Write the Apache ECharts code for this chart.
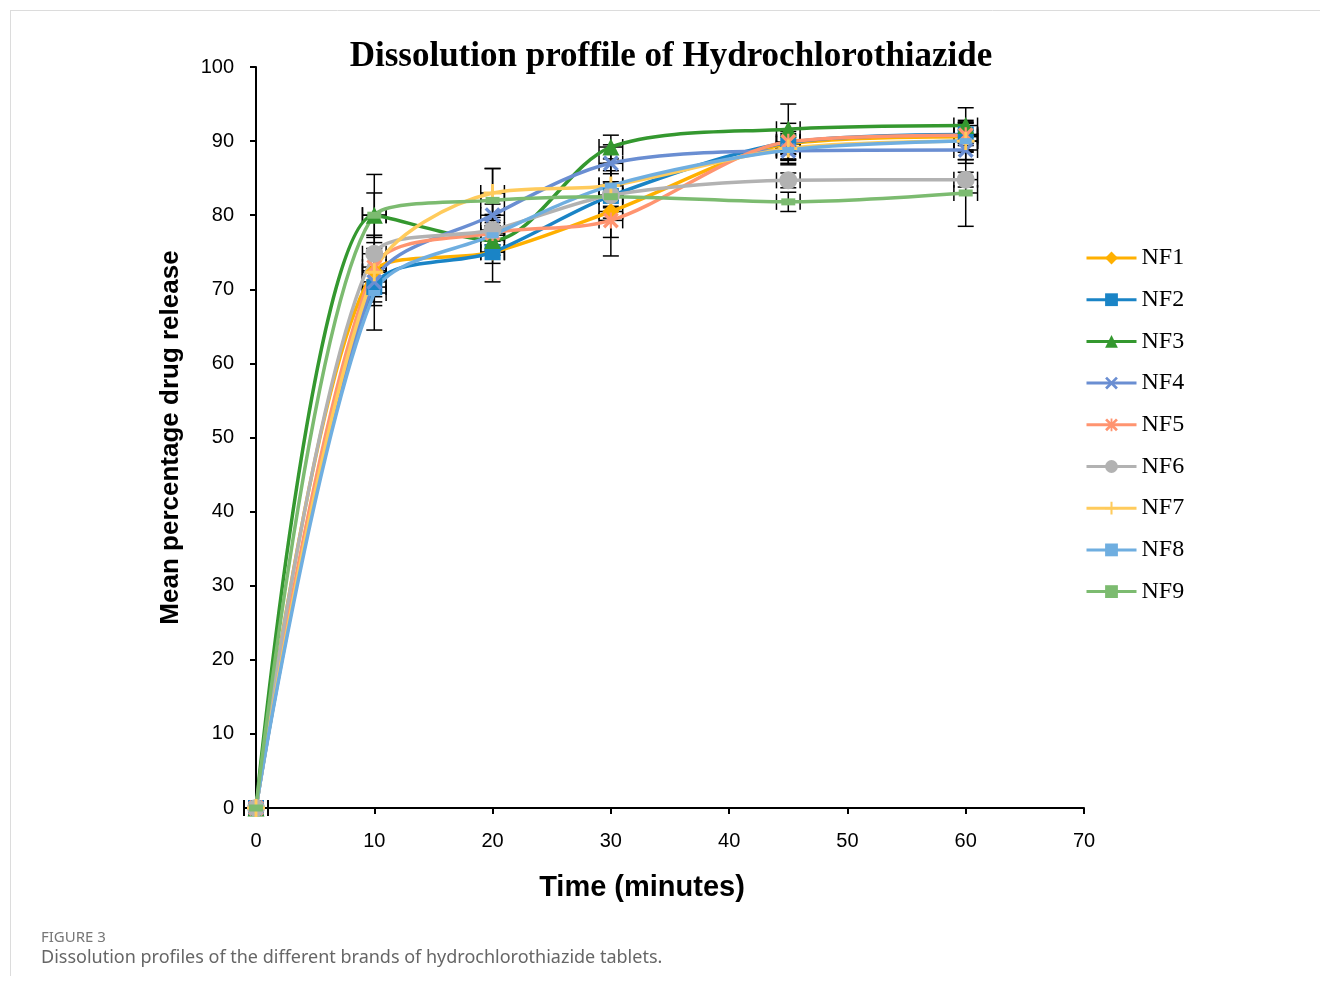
<!DOCTYPE html>
<html>
<head>
<meta charset="utf-8">
<title>Dissolution profile</title>
<script src="https://cdn.jsdelivr.net/npm/echarts@6/dist/echarts.min.js"></script>
<style>
  html, body { margin: 0; padding: 0; background: #fff; }
  #chart { width: 1320px; height: 987px; }
</style>
</head>
<body>
<div id="chart"></div>
<script>
// sampling times (minutes)
const times = [0, 10, 20, 30, 45, 60]

// mean % released per brand
const nf1 = [0, 72.5, 75.0, 80.5, 89.6, 90.6]
const nf2 = [0, 70.3, 75.0, 82.6, 89.8, 90.9]
const nf3 = [0, 80.0, 76.6, 89.2, 91.6, 92.1]
const nf4 = [0, 71.0, 80.0, 87.0, 88.7, 88.8]
const nf5 = [0, 73.0, 77.6, 79.3, 89.9, 90.8]
const nf6 = [0, 74.8, 78.0, 82.7, 84.7, 84.8]
const nf7 = [0, 72.3, 83.0, 84.0, 89.0, 90.0]
const nf8 = [0, 69.5, 77.3, 84.0, 88.8, 90.0]
const nf9 = [0, 80.0, 82.0, 82.5, 81.8, 83.0]

// standard deviations (vertical error bars)
const sd1 = [0.5, 3.0, 4.0, 3.5, 2.0, 2.0]
const sd2 = [0.5, 2.5, 1.5, 3.0, 1.5, 1.5]
const sd3 = [0.5, 3.0, 2.0, 1.6, 3.4, 2.4]
const sd4 = [0.5, 2.0, 1.5, 2.5, 1.2, 1.8]
const sd5 = [0.5, 2.0, 2.5, 4.8, 2.5, 2.0]
const sd6 = [0.5, 2.5, 2.0, 1.5, 1.0, 1.0]
const sd7 = [0.5, 4.0, 3.3, 2.0, 2.0, 2.5]
const sd8 = [0.5, 5.0, 2.0, 3.0, 2.0, 1.5]
const sd9 = [0.5, 5.5, 4.3, 2.0, 1.3, 4.5]

// horizontal error on time
const timeErr = [1, 1, 1, 1, 1, 1]

const names = ['NF1', 'NF2', 'NF3', 'NF4', 'NF5', 'NF6', 'NF7', 'NF8', 'NF9']
const means = [nf1, nf2, nf3, nf4, nf5, nf6, nf7, nf8, nf9]
const sds = [sd1, sd2, sd3, sd4, sd5, sd6, sd7, sd8, sd9]
const colors = ['#FFB000', '#1A84C6', '#34982F', '#6A8ED2', '#FF9470', '#B2B2B2', '#FFCB5C', '#6FAEE0', '#7CBB70']

const xShape = 'path://M0,1.5L1.5,0L5,3.5L8.5,0L10,1.5L6.5,5L10,8.5L8.5,10L5,6.5L1.5,10L0,8.5L3.5,5Z'
const starShape = 'path://M0,1.5L1.5,0L5,3.5L8.5,0L10,1.5L6.5,5L10,8.5L8.5,10L5,6.5L1.5,10L0,8.5L3.5,5ZM4.3,0H5.7V10H4.3Z'
const plusShape = 'path://M4.2,0H5.8V4.2H10V5.8H5.8V10H4.2V5.8H0V4.2H4.2Z'
const symbols = ['diamond', 'rect', 'triangle', xShape, starShape, 'circle', plusShape, 'rect', 'rect']
const symbolSizes = [17, 16, 17, 16, 16, 18, 18, [12, 6], [14, 7]]

function renderErr(params, api) {
  const x = api.value(0)
  const y = api.value(1)
  const e = api.value(2)
  const xe = api.value(3)
  const top = api.coord([x, y + e])
  const bot = api.coord([x, y - e])
  const left = api.coord([x - xe, y])
  const right = api.coord([x + xe, y])
  const c = 8
  const st = { stroke: '#000', lineWidth: 1.5 }
  return {
    type: 'group',
    children: [
      { type: 'line', shape: { x1: top[0], y1: top[1], x2: bot[0], y2: bot[1] }, style: st },
      { type: 'line', shape: { x1: top[0] - c, y1: top[1], x2: top[0] + c, y2: top[1] }, style: st },
      { type: 'line', shape: { x1: bot[0] - c, y1: bot[1], x2: bot[0] + c, y2: bot[1] }, style: st },
      { type: 'line', shape: { x1: left[0], y1: left[1], x2: right[0], y2: right[1] }, style: st },
      { type: 'line', shape: { x1: left[0], y1: left[1] - c, x2: left[0], y2: left[1] + c }, style: st },
      { type: 'line', shape: { x1: right[0], y1: right[1] - c, x2: right[0], y2: right[1] + c }, style: st }
    ]
  }
}

const series = []
names.forEach((n, i) => {
  series.push({
    type: 'custom',
    renderItem: renderErr,
    data: times.map((t, k) => [t, means[i][k], sds[i][k], timeErr[k]]),
    encode: { x: 0, y: 1 },
    z: 2,
    silent: true,
    animation: false
  })
  series.push({
    name: n,
    type: 'line',
    smooth: 0.3,
    data: times.map((t, k) => [t, means[i][k]]),
    symbol: symbols[i],
    symbolSize: symbolSizes[i],
    showAllSymbol: true,
    lineStyle: { color: colors[i], width: 3.5 },
    itemStyle: { color: colors[i] },
    z: 3,
    animation: false
  })
})

const chart = echarts.init(document.getElementById('chart'))
chart.setOption({
  backgroundColor: '#fff',
  title: {
    text: 'Dissolution proffile of Hydrochlorothiazide',
    left: 666,
    top: 34,
    textAlign: 'center',
    textStyle: { fontFamily: 'Liberation Serif', fontWeight: 'bold', fontSize: 35, color: '#000' }
  },
  legend: {
    data: names,
    orient: 'vertical',
    left: 1080,
    top: 241,
    itemWidth: 50,
    itemHeight: 16,
    itemGap: 17.7,
    lineStyle: { width: 3 },
    textStyle: { fontFamily: 'Liberation Serif', fontSize: 24, color: '#000' }
  },
  grid: { left: 256, right: 236, top: 67, bottom: 179 },
  xAxis: {
    type: 'value',
    min: 0,
    max: 70,
    interval: 10,
    axisLine: { lineStyle: { color: '#000', width: 2 } },
    axisTick: { lineStyle: { color: '#000', width: 2 }, length: 6 },
    axisLabel: { fontFamily: 'Liberation Sans', fontSize: 20, color: '#000', margin: 23 },
    splitLine: { show: false }
  },
  yAxis: {
    type: 'value',
    min: 0,
    max: 100,
    interval: 10,
    name: 'Mean percentage drug release',
    nameLocation: 'middle',
    nameGap: 72,
    nameTextStyle: { fontFamily: 'Liberation Sans', fontWeight: 'bold', fontSize: 26, color: '#000' },
    axisLine: { show: true, lineStyle: { color: '#000', width: 2 } },
    axisTick: { show: true, lineStyle: { color: '#000', width: 2 }, length: 6 },
    axisLabel: { fontFamily: 'Liberation Sans', fontSize: 20, color: '#000', margin: 22 },
    splitLine: { show: false }
  },
  graphic: [
    { type: 'line', shape: { x1: 10.5, y1: 10, x2: 10.5, y2: 976 }, style: { stroke: '#dcdcdc', lineWidth: 1 } },
    { type: 'line', shape: { x1: 10, y1: 10.5, x2: 1320, y2: 10.5 }, style: { stroke: '#dcdcdc', lineWidth: 1 } },
    { type: 'text', x: 642, y: 888, style: { text: 'Time (minutes)', fontFamily: 'Liberation Sans', fontWeight: 'bold', fontSize: 29, fill: '#000', textAlign: 'center', textVerticalAlign: 'middle' } },
    { type: 'text', left: 41, top: 930, style: { text: 'FIGURE 3', fontFamily: 'Noto Sans', fontSize: 15, fill: '#777' } },
    { type: 'text', left: 41, top: 949, style: { text: 'Dissolution profiles of the different brands of hydrochlorothiazide tablets.', fontFamily: 'Noto Sans', fontSize: 18, fill: '#666' } }
  ],
  series: series
})
</script>
</body>
</html>
